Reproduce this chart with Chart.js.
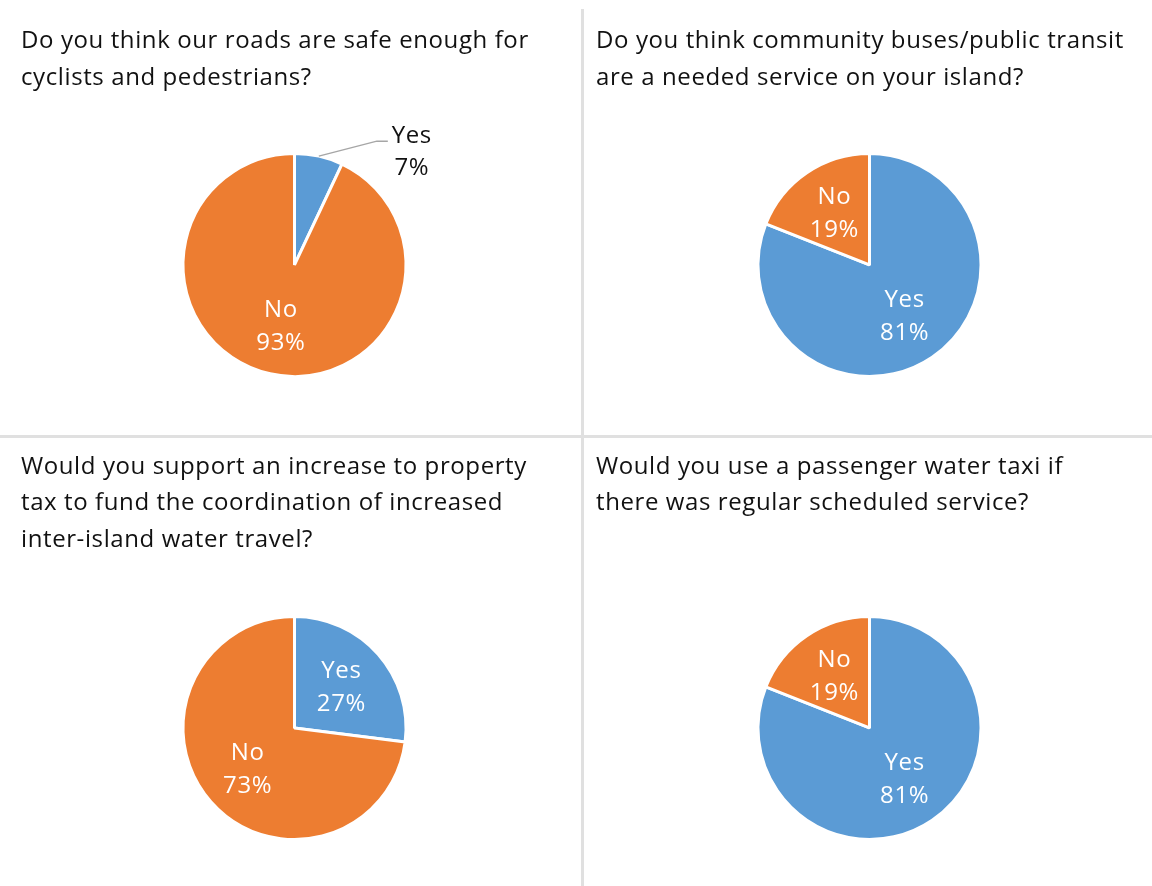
<!DOCTYPE html>
<html>
<head>
<meta charset="utf-8">
<title>Island transport survey</title>
<script src="https://cdn.jsdelivr.net/npm/chart.js@4.4.1/dist/chart.umd.min.js"></script>
<style>
  body { margin: 0; background: #fff; }
  #wrap { position: relative; width: 1152px; height: 886px; overflow: hidden; }
  #wrap canvas { position: absolute; }
  .vline { position: absolute; left: 581px; top: 9px; width: 3px; height: 877px; background: #e0e0e0; }
  .hline { position: absolute; left: 0; top: 435px; width: 1152px; height: 3px; background: #e0e0e0; }
</style>
</head>
<body>
<div id="wrap">
  <canvas id="roads" width="580" height="434" style="left:0;top:0"></canvas>
  <canvas id="transit" width="568" height="434" style="left:584px;top:0"></canvas>
  <canvas id="tax" width="580" height="450" style="left:0;top:436px"></canvas>
  <canvas id="taxi" width="568" height="450" style="left:584px;top:436px"></canvas>
  <div class="vline"></div>
  <div class="hline"></div>
</div>
<script>
const answers = ['Yes', 'No'];

const roadsTitle = ['Do you think our roads are safe enough for', 'cyclists and pedestrians?'];
const transitTitle = ['Do you think community buses/public transit', 'are a needed service on your island?'];
const taxTitle = ['Would you support an increase to property', 'tax to fund the coordination of increased', 'inter-island water travel?'];
const taxiTitle = ['Would you use a passenger water taxi if', 'there was regular scheduled service?'];

const roadsSafe = [7, 93];
const transitNeeded = [81, 19];
const propertyTax = [27, 73];
const waterTaxi = [81, 19];

const FONT = '"Open Sans", "Noto Sans", sans-serif';
const BLUE = '#5b9bd5';
const ORANGE = '#ed7d31';

// slightly looser tracking for every text drawn on the canvas
const tracking = {
  id: 'tracking',
  beforeDraw(chart) {
    chart.ctx.letterSpacing = '0.6px';
  }
};

// "Yes / 7%" style labels: inside the slice, or outside with a leader line when the slice is thin
const sliceLabels = {
  id: 'sliceLabels',
  afterDatasetsDraw(chart) {
    const ctx = chart.ctx;
    const meta = chart.getDatasetMeta(0);
    const values = chart.data.datasets[0].data;
    const total = values.reduce((a, b) => a + b, 0);
    ctx.save();
    ctx.font = '24px ' + FONT;
    ctx.textAlign = 'center';
    ctx.textBaseline = 'middle';
    meta.data.forEach((arc, i) => {
      const p = arc.getProps(['x', 'y', 'startAngle', 'endAngle', 'outerRadius'], true);
      const mid = (p.startAngle + p.endAngle) / 2;
      const name = chart.data.labels[i];
      const pct = Math.round(values[i] / total * 100) + '%';
      if (values[i] / total < 0.1) {
        const ax = p.x + Math.cos(mid) * p.outerRadius;
        const ay = p.y + Math.sin(mid) * p.outerRadius;
        ctx.strokeStyle = '#a6a6a6';
        ctx.lineWidth = 1.5;
        ctx.beginPath();
        ctx.moveTo(ax, ay);
        ctx.lineTo(ax + 58, ay - 15);
        ctx.lineTo(ax + 69, ay - 15);
        ctx.stroke();
        ctx.fillStyle = '#111';
        ctx.fillText(name, ax + 93, ay - 20);
        ctx.fillText(pct, ax + 93, ay + 12);
      } else {
        const d = p.outerRadius * 0.56;
        const lx = p.x + Math.cos(mid) * d;
        const ly = p.y + Math.sin(mid) * d;
        ctx.fillStyle = '#fff';
        ctx.fillText(name, lx, ly - 16);
        ctx.fillText(pct, lx, ly + 17);
      }
    });
    ctx.restore();
  }
};

function createPie(id, title, values, pad, titlePad) {
  const ctx = document.getElementById(id).getContext('2d');
  return new Chart(ctx, {
    type: 'pie',
    data: {
      labels: answers,
      datasets: [{
        data: values,
        backgroundColor: [BLUE, ORANGE],
        borderColor: '#fff',
        borderWidth: 3
      }]
    },
    options: {
      responsive: false,
      animation: false,
      events: [],
      layout: { padding: pad },
      plugins: {
        legend: { display: false },
        tooltip: { enabled: false },
        title: {
          display: true,
          text: title,
          align: 'start',
          color: '#111',
          font: { family: FONT, size: 24, weight: 'normal', lineHeight: 1.52 },
          padding: titlePad
        }
      }
    },
    plugins: [tracking, sliceLabels]
  });
}

createPie('roads', roadsTitle, roadsSafe,
  { left: 21, right: 12, top: 0, bottom: 56 }, { top: 23, bottom: 56 });
createPie('transit', transitTitle, transitNeeded,
  { left: 12, right: 9, top: 0, bottom: 56 }, { top: 23, bottom: 56 });
createPie('tax', taxTitle, propertyTax,
  { left: 21, right: 12, top: 0, bottom: 45 }, { top: 12.5, bottom: 57 });
createPie('taxi', taxiTitle, waterTaxi,
  { left: 12, right: 9, top: 0, bottom: 45 }, { top: 12.5, bottom: 93.5 });
</script>
</body>
</html>
